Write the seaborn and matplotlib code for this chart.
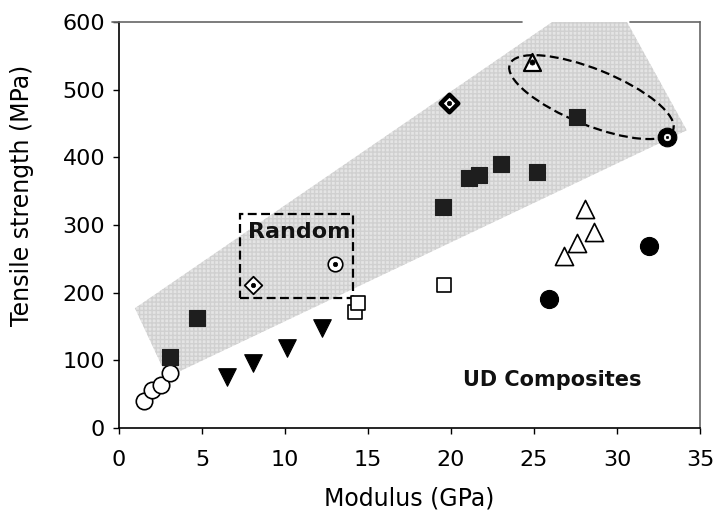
import matplotlib
matplotlib.use("Agg")
import matplotlib.pyplot as plt
import matplotlib.transforms as mtransforms
from matplotlib.patches import Polygon, Rectangle, Ellipse
import seaborn as sns
import pandas as pd

# ---- data ----
open_circle_x = [1.5, 2.0, 2.5, 3.1]
open_circle_y = [40, 56, 64, 82]

filled_square_x = [3.1, 4.7, 19.5, 21.1, 21.7, 23.0, 25.2, 27.6]
filled_square_y = [105, 162, 326, 369, 374, 390, 378, 460]

down_tri_x = [6.5, 8.1, 10.1, 12.2]
down_tri_y = [75, 96, 118, 148]

open_square_x = [14.2, 14.4, 19.6]
open_square_y = [171, 185, 212]

open_tri_x = [26.8, 27.6, 28.6, 28.1]
open_tri_y = [254, 274, 290, 323]

filled_circle_x = [25.9, 31.9]
filled_circle_y = [191, 269]

diamond_dot_x = [8.1]
diamond_dot_y = [212]
circle_dot_x = [13.0]
circle_dot_y = [242]
thick_diamond_x = [19.9]
thick_diamond_y = [481]
tri_dot_x = [24.9]
tri_dot_y = [541]
thick_circle_x = [33.0]
thick_circle_y = [430]

shade_x = [0.96, 26.1, 30.6, 34.2, 2.9]
shade_y = [177, 600, 600, 440, 75]

x_ticks = [0, 5, 10, 15, 20, 25, 30, 35]
y_ticks = [0, 100, 200, 300, 400, 500, 600]

sns.set_theme(style="white")
plt.rcParams['font.family'] = ['DejaVu Sans']
plt.rcParams['text.color'] = 'black'
plt.rcParams['axes.labelcolor'] = 'black'

fig = plt.figure(figsize=(7.14, 5.27), dpi=100)
ax = fig.add_axes([119 / 714, 99 / 527, 581 / 714, 406 / 527])

# shaded region
poly = Polygon(list(zip(shade_x, shade_y)), closed=True, facecolor="#e4e4e4",
               edgecolor="none", hatch="++++", zorder=0)
poly.set_edgecolor("#d0d0d0")
poly.set_linewidth(0)
ax.add_patch(poly)

def scat(x, y, marker, fc, ec, s, lw=1.2, z=3):
    df = pd.DataFrame({"x": x, "y": y})
    sns.scatterplot(data=df, x="x", y="y", marker=marker, color=fc,
                    edgecolor=ec, s=s, linewidth=lw, ax=ax, zorder=z, legend=False)

scat(open_circle_x, open_circle_y, "o", "white", "black", 140, 1.2)
scat(filled_square_x, filled_square_y, "s", "#1e1e1e", "#1e1e1e", 140, 0.8)
scat(down_tri_x, down_tri_y, "v", "black", "black", 160, 0.8)
scat(open_square_x, open_square_y, "s", "white", "black", 105, 1.2)
scat(open_tri_x, open_tri_y, "^", "white", "black", 170, 1.2)
scat(filled_circle_x, filled_circle_y, "o", "black", "black", 170, 0.8)

# special dotted markers
scat(diamond_dot_x, diamond_dot_y, "D", "white", "black", 80, 1.3)
scat(diamond_dot_x, diamond_dot_y, "o", "black", "black", 10, 0.5, z=4)
scat(circle_dot_x, circle_dot_y, "o", "white", "black", 110, 1.2)
scat(circle_dot_x, circle_dot_y, "o", "black", "black", 10, 0.5, z=4)
scat(thick_diamond_x, thick_diamond_y, "D", "white", "black", 80, 3.2)
scat(thick_diamond_x, thick_diamond_y, "o", "black", "black", 10, 0.5, z=4)
scat(tri_dot_x, tri_dot_y, "^", "white", "black", 150, 1.6)
scat(tri_dot_x, tri_dot_y, "o", "black", "black", 14, 0.5, z=4)
scat(thick_circle_x, thick_circle_y, "o", "black", "black", 180, 0.8)
scat(thick_circle_x, thick_circle_y, "o", "white", "white", 22, 0.5, z=4)
scat(thick_circle_x, thick_circle_y, "o", "black", "black", 3, 0.5, z=5)

# dashed "Random" box
rect = Rectangle((7.3, 192), 6.8, 124, fill=False, edgecolor="black",
                 linestyle=(0, (4, 2)), linewidth=1.6, zorder=2)
ax.add_patch(rect)
ax.text(10.84, 289, "Random", ha="center", va="center", fontsize=16,
        fontweight="bold", color="#111111", zorder=6)
ax.text(26.1, 71, "UD Composites", ha="center", va="center", fontsize=15,
        fontweight="bold", color="#111111", zorder=6)

ax.set_xlim(0, 35)
ax.set_ylim(0, 600)

# dashed ellipse (drawn in inches around a data centre)
trans = fig.dpi_scale_trans + mtransforms.ScaledTranslation(28.46, 489, ax.transData)
ell = Ellipse((0, 0), 1.76, 0.56, angle=-22, fill=False, edgecolor="black",
              linestyle=(0, (4, 2)), linewidth=1.6, transform=trans, zorder=2)
ax.add_patch(ell)

ax.set_xticks(x_ticks)
ax.set_yticks(y_ticks)
ax.tick_params(axis="both", direction="out", length=4, width=1, colors="black",
               bottom=True, left=True)
ax.tick_params(axis="x", labelsize=16, pad=12)
ax.tick_params(axis="y", labelsize=16, pad=6)
ax.set_xlabel("Modulus (GPa)", fontsize=17, labelpad=12)
ax.set_ylabel("Tensile strength (MPa)", fontsize=17)
ax.yaxis.set_label_coords(-0.146, 0.574)

for side in ["left", "bottom"]:
    ax.spines[side].set_color("black")
    ax.spines[side].set_linewidth(1.2)
ax.spines["right"].set_color("#666666")
ax.spines["right"].set_linewidth(1.2)
ax.spines["top"].set_visible(False)

# top frame line with the gap seen in the reference
for seg in ([-0.4, 24.3], [30.8, 35]):
    ax.plot(seg, [600, 600], color="#666666", linewidth=1.2, clip_on=False, zorder=7)

fig.savefig("out.png", dpi=100)
